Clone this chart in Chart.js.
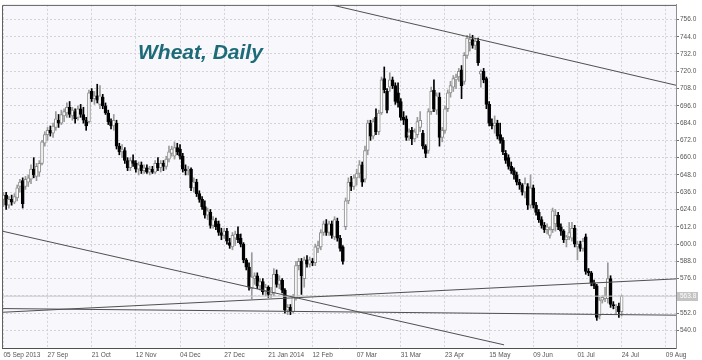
<!DOCTYPE html>
<html>
<head>
<meta charset="utf-8">
<title>Wheat, Daily</title>
<script src="https://cdn.jsdelivr.net/npm/chart.js@4.4.1/dist/chart.umd.min.js"></script>
<style>
  html, body { margin: 0; padding: 0; background: #fff; }
  #wrap { position: relative; width: 702px; height: 360px; }
  #title {
    position: absolute; left: 138px; top: 40px;
    font: italic bold 21px "Liberation Sans", Arial, sans-serif;
    color: #1d6a78; pointer-events: none;
  }
</style>
</head>
<body>
<div id="wrap">
  <canvas id="chart" width="702" height="360"></canvas>
  <div id="title">Wheat, Daily</div>
</div>
<script>
// daily OHLC, one entry per trading day starting 05 Sep 2013
const opens = [
  631,634,627,631,629,632,640,644,640,643, 645,652,647,650,656,670,676,679,677,681,
  686,684,689,691,695,689,692,688,694,690, 686,685,706,701,703,697,702,696,691,685,
  682,684,668,664,665,658,653,658,656,652, 655,651,653,650,652,650,656,653,656,654,
  659,663,661,667,666,661,652,651,652,639, 643,635,631,626,620,622,613,616,614,608,
  606,609,601,598,604,607,604,600,589,584, 569,576,578,571,574,567,570,565,566,579,
  572,575,568,554,556,553,562,585,588,576, 589,586,588,587,597,598,608,614,608,614,
  605,616,604,598,612,630,643,640,646,649, 655,645,665,684,675,688,678,691,715,706,
  709,714,710,705,699,688,687,675,679,673, 676,681,677,668,665,692,707,693,702,674,
  679,694,705,709,714,716,721,713,731,740, 742,738,741,718,720,715,697,684,682,684,
  676,672,663,660,654,651,648,643,641,636, 640,627,639,627,622,617,613,610,606,610,
  614,620,612,609,603,605,604,611,598,600, 597,605,581,580,573,571,550,561,562,562,
  576,558,555,557,553
];
const highs = [
  636,636,633,634,635,641,645,646,647,648, 655,660,656,658,672,678,681,682,684,692,
  690,693,694,698,699,695,694,696,697,695, 688,707,708,706,711,710,704,698,693,687,
  690,686,670,669,667,660,660,662,658,657, 657,655,655,654,654,658,660,658,658,661,
  668,668,671,670,669,663,655,654,653,646, 645,637,633,630,625,624,619,618,616,611,
  611,611,604,608,609,612,607,601,590,587, 594,580,580,576,576,572,571,570,583,582,
  578,576,569,558,558,565,588,590,590,591, 592,591,590,600,602,610,616,617,616,616,
  619,618,606,599,632,646,647,648,652,658, 657,668,686,686,687,694,693,716,723,708,
  719,716,712,712,701,692,689,680,681,680, 688,692,679,669,694,709,714,705,705,681,
  696,707,713,717,718,722,724,733,745,746, 745,743,743,721,722,716,699,687,689,686,
  684,674,665,662,657,653,650,645,642,646, 642,648,641,629,624,619,615,614,612,625,
  624,622,614,610,606,615,615,613,602,602, 604,607,583,581,575,572,563,564,570,587,
  578,560,558,559,564.5
];
const lows = [
  626,624,625,627,628,630,636,625,638,640, 642,646,644,647,655,668,672,675,674,679,
  681,683,685,688,688,686,684,686,688,684, 679,684,699,697,698,694,694,690,683,680,
  679,666,662,660,656,651,651,654,650,648, 649,649,649,648,649,649,651,650,651,652,
  657,661,659,662,659,650,648,648,637,636, 633,629,624,618,617,611,611,610,606,603,
  604,600,597,596,599,601,598,587,582,568, 562,572,569,568,565,564,563,563,564,570,
  569,566,552,551,551,552,561,582,565,570, 584,584,585,585,594,596,606,606,606,604,
  603,602,595,586,610,628,637,638,641,646, 640,643,662,672,673,676,676,690,705,691,
  706,708,697,695,686,683,672,672,669,671, 674,678,666,660,663,690,692,690,668,671,
  677,692,702,706,708,713,701,711,729,734, 736,735,724,709,712,694,682,680,677,673,
  670,662,656,652,649,645,641,638,634,632, 624,625,625,620,615,611,608,607,604,608,
  609,610,606,601,598,603,602,598,589,595, 595,579,578,571,569,547,548,559,560,559,
  556,555,551,549,550
];
const closes = [
  634,627,631,629,633,639,643,628,645,646, 652,648,654,656,671,676,679,677,682,687,
  684,690,692,695,690,693,687,694,690,686, 682,705,701,703,700,703,696,691,685,682,
  686,668,664,666,658,653,658,656,652,655, 651,653,650,652,650,656,653,656,654,659,
  664,666,667,664,661,652,651,652,639,643, 635,631,626,620,623,613,617,612,608,606,
  609,602,599,606,607,603,600,589,584,570, 577,578,571,574,567,570,565,568,579,572,
  575,568,554,556,553,563,585,588,578,589, 586,589,587,598,599,608,614,608,614,606,
  617,604,597,588,630,643,640,646,649,655, 643,665,684,675,685,678,691,714,707,693,
  714,710,699,698,688,686,674,678,673,678, 685,686,668,663,692,706,694,703,674,679,
  694,705,710,715,716,720,710,731,743,742, 738,741,726,720,714,697,684,682,684,675,
  672,664,658,654,651,648,643,641,636,642, 627,639,627,622,617,613,610,612,610,623,
  620,612,609,603,605,608,611,600,600,597, 602,581,580,573,571,549,561,563,564,576,
  558,557,556,553,563.8
];

// date axis: a label every 16 trading days
const dateTicks = [0, 16, 32, 48, 64, 80, 96, 112, 128, 144, 160, 176, 192, 208, 224, 240];
const dateLabels = ['05 Sep 2013', '27 Sep', '21 Oct', '12 Nov', '04 Dec', '27 Dec', '21 Jan 2014', '12 Feb',
                    '07 Mar', '31 Mar', '23 Apr', '15 May', '09 Jun', '01 Jul', '24 Jul', '09 Aug'];
const priceTicks = [540, 552, 564, 576, 588, 600, 612, 624, 636, 648, 660, 672, 684, 696, 708, 720, 732, 744, 756];

// trend lines drawn on the chart, [day index, price]
const trendTop = [[118, 766.5], [243.7, 710.3]];
const trendFall = [[-0.5, 609], [181.4, 530]];
const trendRise = [[-0.5, 552.6], [243.7, 575.8]];
const trendFlat = [[-0.5, 555.2], [243.7, 550.6]];

const lastClose = closes[closes.length - 1];
const isUp = i => closes[i] >= opens[i];
const toPts = arr => arr.map(p => ({ x: p[0], y: p[1] }));

const trendLine = (pts, color) => ({
  type: 'line',
  data: toPts(pts),
  borderColor: color,
  borderWidth: 1,
  pointRadius: 0,
  tension: 0,
  order: 0
});

const chartBg = {
  id: 'chartBg',
  beforeDraw(chart) {
    const { ctx, chartArea: a } = chart;
    ctx.save();
    ctx.fillStyle = '#ffffff';
    ctx.fillRect(0, 0, chart.width, chart.height);
    ctx.fillStyle = '#f7f7fc';
    ctx.fillRect(a.left, a.top, a.right - a.left, a.bottom - a.top);
    ctx.restore();
  },
  afterDraw(chart) {
    const { ctx, chartArea: a } = chart;
    ctx.save();
    ctx.strokeStyle = '#606060';
    ctx.lineWidth = 1;
    ctx.beginPath();
    ctx.moveTo(a.left + 0.5, a.bottom);
    ctx.lineTo(a.left + 0.5, a.top + 0.5);
    ctx.lineTo(a.right, a.top + 0.5);
    ctx.stroke();
    // last price marker on the price axis
    const y = Math.round(chart.scales.y.getPixelForValue(lastClose));
    ctx.fillStyle = '#c4c4c4';
    ctx.fillRect(a.right + 1, y - 4, 21, 9);
    ctx.fillStyle = '#ffffff';
    ctx.font = '6.5px "Liberation Sans", Arial, sans-serif';
    ctx.textBaseline = 'middle';
    ctx.fillText(lastClose.toFixed(1), a.right + 4, y + 0.5);
    ctx.restore();
  }
};

new Chart(document.getElementById('chart'), {
  type: 'bar',
  data: {
    datasets: [
      trendLine(trendTop, '#505050'),
      trendLine(trendFall, '#505050'),
      trendLine(trendRise, '#505050'),
      trendLine(trendFlat, '#505050'),
      trendLine([[-0.5, lastClose], [243.7, lastClose]], '#c8c8c8'),
      {
        // candle bodies
        data: opens.map((o, i) => ({ x: i, y: [o, closes[i]] })),
        backgroundColor: ctx => isUp(ctx.dataIndex) ? '#ffffff' : '#000000',
        borderColor: ctx => isUp(ctx.dataIndex) ? '#8e8e8e' : '#000000',
        borderWidth: 1,
        borderSkipped: false,
        barThickness: 3,
        minBarLength: 1,
        grouped: false,
        order: 1
      },
      {
        // candle wicks
        data: lows.map((l, i) => ({ x: i, y: [l, highs[i]] })),
        backgroundColor: ctx => isUp(ctx.dataIndex) ? '#9a9a9a' : '#000000',
        barThickness: 1,
        grouped: false,
        order: 2
      }
    ]
  },
  options: {
    responsive: false,
    devicePixelRatio: 1,
    animation: false,
    layout: { padding: { left: 2, top: 3, right: 0, bottom: 0 } },
    plugins: { legend: { display: false }, tooltip: { enabled: false } },
    scales: {
      x: {
        type: 'linear',
        min: -0.5,
        max: 243.7,
        offset: false,
        grid: { offset: false, color: '#d4d4d8', drawTicks: false },
        border: { color: '#505050', dash: [2, 2] },
        afterBuildTicks: s => { s.ticks = dateTicks.map(v => ({ value: v })); },
        afterFit: s => { s.height = 12; },
        ticks: {
          align: 'start',
          autoSkip: false,
          maxRotation: 0,
          padding: 3,
          color: '#555555',
          font: { family: '"Liberation Sans", Arial, sans-serif', size: 6.5 },
          callback: v => dateLabels[dateTicks.indexOf(v)]
        }
      },
      y: {
        position: 'right',
        min: 527.8,
        max: 766.1,
        grid: { color: '#d4d4d8', tickLength: 3, tickColor: '#707070', tickBorderDash: [] },
        border: { color: '#909090', dash: [2, 2] },
        afterBuildTicks: s => { s.ticks = priceTicks.map(v => ({ value: v })); },
        afterFit: s => { s.width = 26; },
        ticks: {
          padding: 1,
          color: '#555555',
          font: { family: '"Liberation Sans", Arial, sans-serif', size: 6.5 },
          callback: v => v.toFixed(1)
        }
      }
    }
  },
  plugins: [chartBg]
});
</script>
</body>
</html>
